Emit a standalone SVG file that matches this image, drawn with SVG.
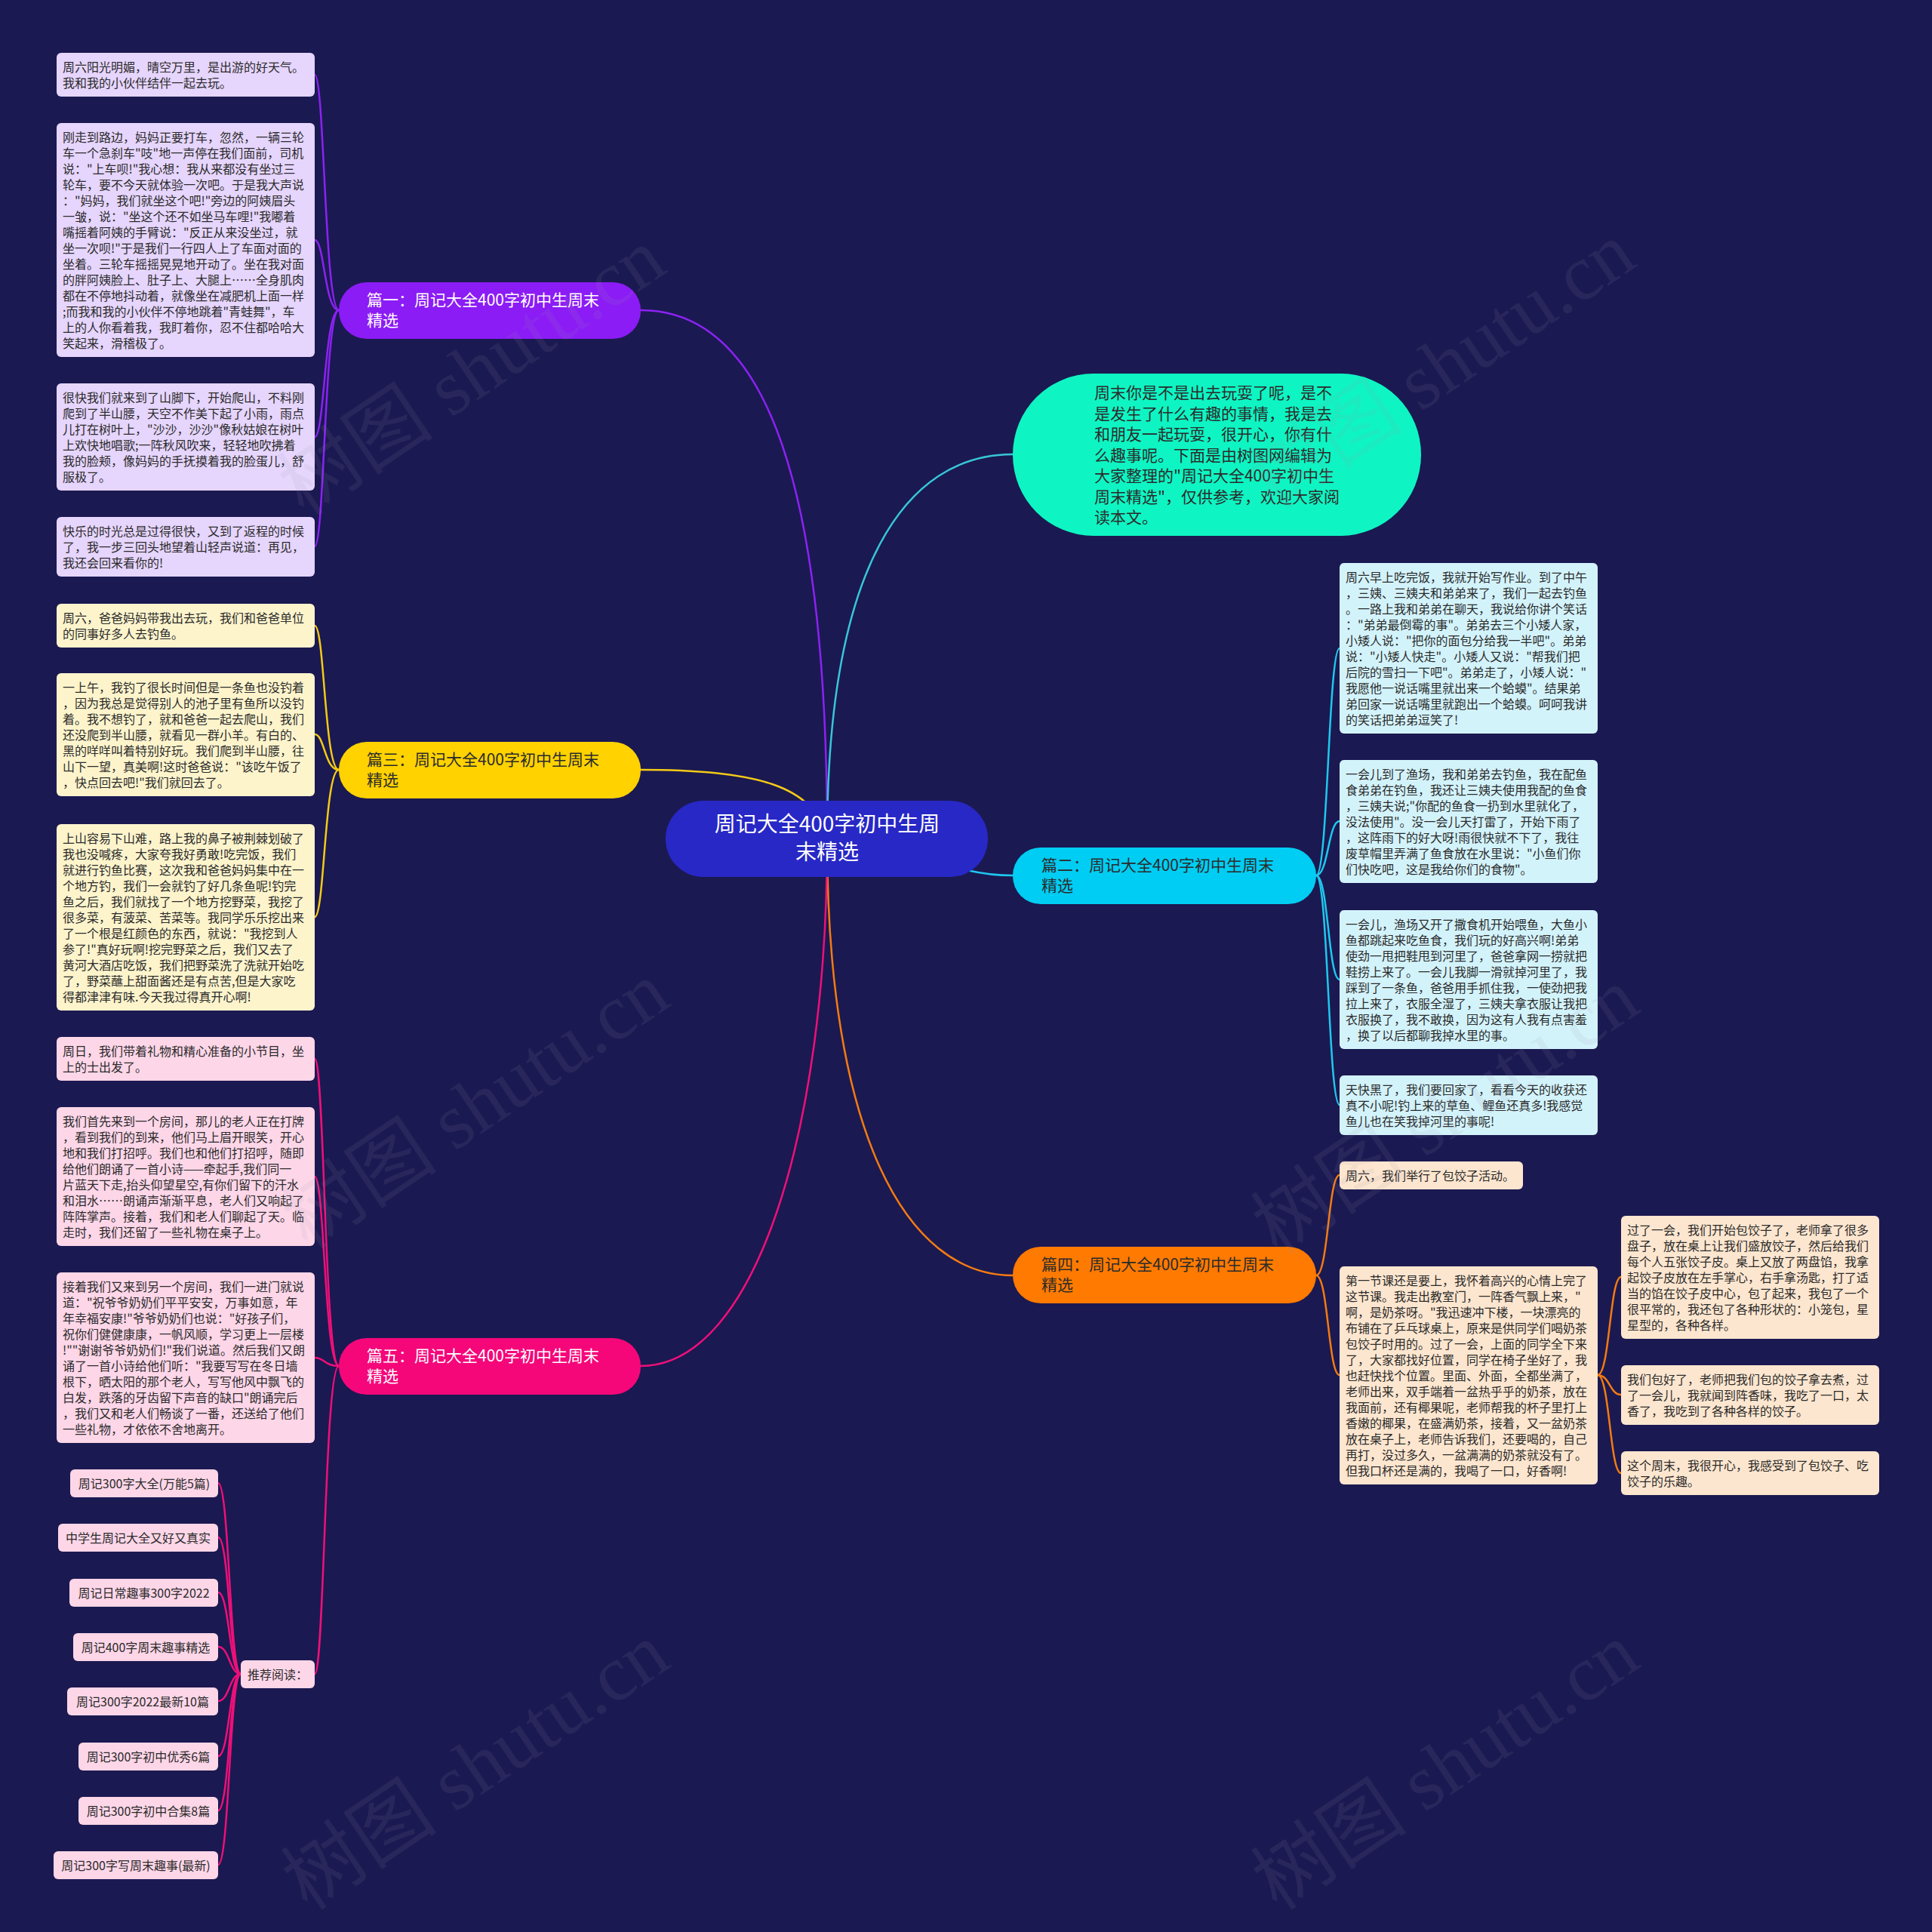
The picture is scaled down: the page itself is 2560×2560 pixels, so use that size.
<svg xmlns="http://www.w3.org/2000/svg" width="2560" height="2560" viewBox="0 0 2560 2560">
<style>
text{font-family:'Noto Sans CJK SC','Noto Sans',sans-serif}
.t16{font-size:16px;fill:#2b2b2b}
.t21{font-size:21px}
.dk{fill:#2b2b2b}
.wt{fill:#ffffff}
.ln{fill:none;stroke-width:2.5;stroke-linecap:round}
.pu{stroke:#8b22f2}.ye{stroke:#f4cb16}.pk{stroke:#ee1079}.cy{stroke:#1fc8ee}.tq{stroke:#38c6d8}.or{stroke:#f47b12}
.lpu{fill:#e6d5fd}.lye{fill:#fdf4cc}.lpk{fill:#fdd6e8}.lcy{fill:#d3f3fb}.lor{fill:#fde6cf}
.wm{font-family:'Liberation Serif','Noto Sans CJK SC',serif;font-size:104px;fill:#9a9ab0;opacity:0.1}
</style>
<rect width="2560" height="2560" fill="#1b1951"/>

<g id="connectors">
<path class="ln pu" d="M1096 1112C1096 600 1000 411 849 411"/>
<path class="ln tq" d="M1096 1112C1096 750 1200 602 1342 602"/>
<path class="ln ye" d="M1096 1112C1080 1040 1000 1020 849 1020"/>
<path class="ln cy" d="M1096 1112C1200 1112 1250 1160 1342 1160"/>
<path class="ln or" d="M1096 1112C1096 1500 1200 1690 1342 1690"/>
<path class="ln pk" d="M1096 1112C1096 1500 1000 1810 849 1810"/>
<path class="ln pu" d="M449 411C430 411 430 99 417 99"/>
<path class="ln pu" d="M449 411C430 411 430 318 417 318"/>
<path class="ln pu" d="M449 411C430 411 430 579 417 579"/>
<path class="ln pu" d="M449 411C430 411 430 724 417 724"/>
<path class="ln ye" d="M449 1020C430 1020 430 829 417 829"/>
<path class="ln ye" d="M449 1020C430 1020 430 973 417 973"/>
<path class="ln ye" d="M449 1020C430 1020 430 1215 417 1215"/>
<path class="ln pk" d="M449 1810C430 1810 430 1403 417 1403"/>
<path class="ln pk" d="M449 1810C430 1810 430 1559 417 1559"/>
<path class="ln pk" d="M449 1810C430 1810 430 1799 417 1799"/>
<path class="ln pk" d="M449 1810C430 1810 430 2218 417 2218"/>
<path class="ln pk" d="M319 2218C304 2218 304 1965 289 1965"/>
<path class="ln pk" d="M319 2218C304 2218 304 2037 289 2037"/>
<path class="ln pk" d="M319 2218C304 2218 304 2110 289 2110"/>
<path class="ln pk" d="M319 2218C304 2218 304 2182 289 2182"/>
<path class="ln pk" d="M319 2218C304 2218 304 2254 289 2254"/>
<path class="ln pk" d="M319 2218C304 2218 304 2327 289 2327"/>
<path class="ln pk" d="M319 2218C304 2218 304 2399 289 2399"/>
<path class="ln pk" d="M319 2218C304 2218 304 2471 289 2471"/>
<path class="ln cy" d="M1744 1160C1760 1160 1760 859 1775 859"/>
<path class="ln cy" d="M1744 1160C1760 1160 1760 1088 1775 1088"/>
<path class="ln cy" d="M1744 1160C1760 1160 1760 1298 1775 1298"/>
<path class="ln cy" d="M1744 1160C1760 1160 1760 1464 1775 1464"/>
<path class="ln or" d="M1744 1690C1760 1690 1760 1557 1775 1557"/>
<path class="ln or" d="M1744 1690C1760 1690 1760 1822 1775 1822"/>
<path class="ln or" d="M2117 1822C2133 1822 2133 1692 2148 1692"/>
<path class="ln or" d="M2117 1822C2133 1822 2133 1848 2148 1848"/>
<path class="ln or" d="M2117 1822C2133 1822 2133 1952 2148 1952"/>
</g>

<g id="center">
<rect x="882" y="1061" width="427" height="101" rx="50" fill="#2828c6"/>
<text class="wt" font-size="28" text-anchor="middle"><tspan x="1096" y="1102">周记大全400字初中生周</tspan><tspan x="1096" y="1139">末精选</tspan></text>
</g>

<g id="intro">
<rect x="1342" y="495" width="541" height="215" rx="107" fill="#0ef5c3"/>
<text class="t21 dk"><tspan x="1450" y="528">周末你是不是出去玩耍了呢，是不</tspan><tspan x="1450" y="555.5">是发生了什么有趣的事情，我是去</tspan><tspan x="1450" y="583">和朋友一起玩耍，很开心，你有什</tspan><tspan x="1450" y="610.5">么趣事呢。下面是由树图网编辑为</tspan><tspan x="1450" y="638">大家整理的"周记大全400字初中生</tspan><tspan x="1450" y="665.5">周末精选"，仅供参考，欢迎大家阅</tspan><tspan x="1450" y="693">读本文。</tspan></text>
</g>

<g id="branch1">
<rect x="449" y="374" width="400" height="75" rx="37" fill="#8b1cf5"/>
<text class="t21 wt"><tspan x="486" y="405">篇一：周记大全400字初中生周末</tspan><tspan x="486" y="432">精选</tspan></text>
</g>
<g id="branch3">
<rect x="449" y="983" width="400" height="75" rx="37" fill="#ffd200"/>
<text class="t21 dk"><tspan x="486" y="1014">篇三：周记大全400字初中生周末</tspan><tspan x="486" y="1041">精选</tspan></text>
</g>
<g id="branch5">
<rect x="449" y="1773" width="400" height="75" rx="37" fill="#f5077a"/>
<text class="t21 wt"><tspan x="486" y="1804">篇五：周记大全400字初中生周末</tspan><tspan x="486" y="1831">精选</tspan></text>
</g>
<g id="branch2">
<rect x="1342" y="1123" width="402" height="75" rx="37" fill="#00cdf3"/>
<text class="t21 dk"><tspan x="1380" y="1154">篇二：周记大全400字初中生周末</tspan><tspan x="1380" y="1181">精选</tspan></text>
</g>
<g id="branch4">
<rect x="1342" y="1652" width="402" height="75" rx="37" fill="#ff7a00"/>
<text class="t21 dk"><tspan x="1380" y="1683">篇四：周记大全400字初中生周末</tspan><tspan x="1380" y="1710">精选</tspan></text>
</g>

<g id="p1-1"><rect class="lpu" x="75" y="70" width="342" height="58" rx="6"/>
<text class="t16"><tspan x="83" y="95">周六阳光明媚，晴空万里，是出游的好天气。</tspan><tspan x="83" y="116">我和我的小伙伴结伴一起去玩。</tspan></text></g>
<g id="p1-2"><rect class="lpu" x="75" y="163" width="342" height="310" rx="6"/>
<text class="t16"><tspan x="83" y="188">刚走到路边，妈妈正要打车，忽然，一辆三轮</tspan><tspan x="83" y="209">车一个急刹车"吱"地一声停在我们面前，司机</tspan><tspan x="83" y="230">说："上车呗!"我心想：我从来都没有坐过三</tspan><tspan x="83" y="251">轮车，要不今天就体验一次吧。于是我大声说</tspan><tspan x="83" y="272">："妈妈，我们就坐这个吧!"旁边的阿姨眉头</tspan><tspan x="83" y="293">一皱，说："坐这个还不如坐马车哩!"我嘟着</tspan><tspan x="83" y="314">嘴摇着阿姨的手臂说："反正从来没坐过，就</tspan><tspan x="83" y="335">坐一次呗!"于是我们一行四人上了车面对面的</tspan><tspan x="83" y="356">坐着。三轮车摇摇晃晃地开动了。坐在我对面</tspan><tspan x="83" y="377">的胖阿姨脸上、肚子上、大腿上……全身肌肉</tspan><tspan x="83" y="398">都在不停地抖动着，就像坐在减肥机上面一样</tspan><tspan x="83" y="419">;而我和我的小伙伴不停地跳着"青蛙舞"，车</tspan><tspan x="83" y="440">上的人你看着我，我盯着你，忍不住都哈哈大</tspan><tspan x="83" y="461">笑起来，滑稽极了。</tspan></text></g>
<g id="p1-3"><rect class="lpu" x="75" y="508" width="342" height="142" rx="6"/>
<text class="t16"><tspan x="83" y="533">很快我们就来到了山脚下，开始爬山，不料刚</tspan><tspan x="83" y="554">爬到了半山腰，天空不作美下起了小雨，雨点</tspan><tspan x="83" y="575">儿打在树叶上，"沙沙，沙沙"像秋姑娘在树叶</tspan><tspan x="83" y="596">上欢快地唱歌;一阵秋风吹来，轻轻地吹拂着</tspan><tspan x="83" y="617">我的脸颊，像妈妈的手抚摸着我的脸蛋儿，舒</tspan><tspan x="83" y="638">服极了。</tspan></text></g>
<g id="p1-4"><rect class="lpu" x="75" y="685" width="342" height="79" rx="6"/>
<text class="t16"><tspan x="83" y="710">快乐的时光总是过得很快，又到了返程的时候</tspan><tspan x="83" y="731">了，我一步三回头地望着山轻声说道：再见，</tspan><tspan x="83" y="752">我还会回来看你的!</tspan></text></g>

<g id="p3-1"><rect class="lye" x="75" y="800" width="342" height="58" rx="6"/>
<text class="t16"><tspan x="83" y="825">周六，爸爸妈妈带我出去玩，我们和爸爸单位</tspan><tspan x="83" y="846">的同事好多人去钓鱼。</tspan></text></g>
<g id="p3-2"><rect class="lye" x="75" y="892" width="342" height="163" rx="6"/>
<text class="t16"><tspan x="83" y="917">一上午，我钓了很长时间但是一条鱼也没钓着</tspan><tspan x="83" y="938">，因为我总是觉得别人的池子里有鱼所以没钓</tspan><tspan x="83" y="959">着。我不想钓了，就和爸爸一起去爬山，我们</tspan><tspan x="83" y="980">还没爬到半山腰，就看见一群小羊。有白的、</tspan><tspan x="83" y="1001">黑的咩咩叫着特别好玩。我们爬到半山腰，往</tspan><tspan x="83" y="1022">山下一望，真美啊!这时爸爸说："该吃午饭了</tspan><tspan x="83" y="1043">，快点回去吧!"我们就回去了。</tspan></text></g>
<g id="p3-3"><rect class="lye" x="75" y="1092" width="342" height="247" rx="6"/>
<text class="t16"><tspan x="83" y="1117">上山容易下山难，路上我的鼻子被荆棘划破了</tspan><tspan x="83" y="1138">我也没喊疼，大家夸我好勇敢!吃完饭，我们</tspan><tspan x="83" y="1159">就进行钓鱼比赛，这次我和爸爸妈妈集中在一</tspan><tspan x="83" y="1180">个地方钓，我们一会就钓了好几条鱼呢!钓完</tspan><tspan x="83" y="1201">鱼之后，我们就找了一个地方挖野菜，我挖了</tspan><tspan x="83" y="1222">很多菜，有菠菜、苦菜等。我同学乐乐挖出来</tspan><tspan x="83" y="1243">了一个根是红颜色的东西，就说："我挖到人</tspan><tspan x="83" y="1264">参了!"真好玩啊!挖完野菜之后，我们又去了</tspan><tspan x="83" y="1285">黄河大酒店吃饭，我们把野菜洗了洗就开始吃</tspan><tspan x="83" y="1306">了，野菜蘸上甜面酱还是有点苦,但是大家吃</tspan><tspan x="83" y="1327">得都津津有味.今天我过得真开心啊!</tspan></text></g>

<g id="p5-1"><rect class="lpk" x="75" y="1374" width="342" height="58" rx="6"/>
<text class="t16"><tspan x="83" y="1399">周日，我们带着礼物和精心准备的小节目，坐</tspan><tspan x="83" y="1420">上的士出发了。</tspan></text></g>
<g id="p5-2"><rect class="lpk" x="75" y="1467" width="342" height="184" rx="6"/>
<text class="t16"><tspan x="83" y="1492">我们首先来到一个房间，那儿的老人正在打牌</tspan><tspan x="83" y="1513">，看到我们的到来，他们马上眉开眼笑，开心</tspan><tspan x="83" y="1534">地和我们打招呼。我们也和他们打招呼，随即</tspan><tspan x="83" y="1555">给他们朗诵了一首小诗——牵起手,我们同一</tspan><tspan x="83" y="1576">片蓝天下走,抬头仰望星空,有你们留下的汗水</tspan><tspan x="83" y="1597">和泪水……朗诵声渐渐平息，老人们又响起了</tspan><tspan x="83" y="1618">阵阵掌声。接着，我们和老人们聊起了天。临</tspan><tspan x="83" y="1639">走时，我们还留了一些礼物在桌子上。</tspan></text></g>
<g id="p5-3"><rect class="lpk" x="75" y="1686" width="342" height="226" rx="6"/>
<text class="t16"><tspan x="83" y="1711">接着我们又来到另一个房间，我们一进门就说</tspan><tspan x="83" y="1732">道："祝爷爷奶奶们平平安安，万事如意，年</tspan><tspan x="83" y="1753">年幸福安康!"爷爷奶奶们也说："好孩子们，</tspan><tspan x="83" y="1774">祝你们健健康康，一帆风顺，学习更上一层楼</tspan><tspan x="83" y="1795">!""谢谢爷爷奶奶们!"我们说道。然后我们又朗</tspan><tspan x="83" y="1816">诵了一首小诗给他们听："我要写写在冬日墙</tspan><tspan x="83" y="1837">根下，晒太阳的那个老人，写写他风中飘飞的</tspan><tspan x="83" y="1858">白发，跌落的牙齿留下声音的缺口"朗诵完后</tspan><tspan x="83" y="1879">，我们又和老人们畅谈了一番，还送给了他们</tspan><tspan x="83" y="1900">一些礼物，才依依不舍地离开。</tspan></text></g>
<g id="p5-rec"><rect class="lpk" x="319" y="2200" width="98" height="37" rx="6"/>
<text class="t16" x="368" y="2225" text-anchor="middle">推荐阅读：</text></g>
<g id="rec1"><rect class="lpk" x="93" y="1947" width="196" height="37" rx="6"/><text class="t16" x="191" y="1972" text-anchor="middle">周记300字大全(万能5篇)</text></g>
<g id="rec2"><rect class="lpk" x="77" y="2019" width="212" height="37" rx="6"/><text class="t16" x="183" y="2044" text-anchor="middle">中学生周记大全又好又真实</text></g>
<g id="rec3"><rect class="lpk" x="92" y="2092" width="197" height="37" rx="6"/><text class="t16" x="190.5" y="2117" text-anchor="middle">周记日常趣事300字2022</text></g>
<g id="rec4"><rect class="lpk" x="97" y="2164" width="192" height="37" rx="6"/><text class="t16" x="193" y="2189" text-anchor="middle">周记400字周末趣事精选</text></g>
<g id="rec5"><rect class="lpk" x="89" y="2236" width="200" height="37" rx="6"/><text class="t16" x="189" y="2261" text-anchor="middle">周记300字2022最新10篇</text></g>
<g id="rec6"><rect class="lpk" x="104" y="2309" width="185" height="37" rx="6"/><text class="t16" x="196.5" y="2334" text-anchor="middle">周记300字初中优秀6篇</text></g>
<g id="rec7"><rect class="lpk" x="104" y="2381" width="185" height="37" rx="6"/><text class="t16" x="196.5" y="2406" text-anchor="middle">周记300字初中合集8篇</text></g>
<g id="rec8"><rect class="lpk" x="71" y="2453" width="218" height="37" rx="6"/><text class="t16" x="180" y="2478" text-anchor="middle">周记300字写周末趣事(最新)</text></g>

<g id="p2-1"><rect class="lcy" x="1775" y="746" width="342" height="226" rx="6"/>
<text class="t16"><tspan x="1783" y="771">周六早上吃完饭，我就开始写作业。到了中午</tspan><tspan x="1783" y="792">，三姨、三姨夫和弟弟来了，我们一起去钓鱼</tspan><tspan x="1783" y="813">。一路上我和弟弟在聊天，我说给你讲个笑话</tspan><tspan x="1783" y="834">："弟弟最倒霉的事"。弟弟去三个小矮人家，</tspan><tspan x="1783" y="855">小矮人说："把你的面包分给我一半吧"。弟弟</tspan><tspan x="1783" y="876">说："小矮人快走"。小矮人又说："帮我们把</tspan><tspan x="1783" y="897">后院的雪扫一下吧"。弟弟走了，小矮人说："</tspan><tspan x="1783" y="918">我愿他一说话嘴里就出来一个蛤蟆"。结果弟</tspan><tspan x="1783" y="939">弟回家一说话嘴里就跑出一个蛤蟆。呵呵我讲</tspan><tspan x="1783" y="960">的笑话把弟弟逗笑了!</tspan></text></g>
<g id="p2-2"><rect class="lcy" x="1775" y="1007" width="342" height="163" rx="6"/>
<text class="t16"><tspan x="1783" y="1032">一会儿到了渔场，我和弟弟去钓鱼，我在配鱼</tspan><tspan x="1783" y="1053">食弟弟在钓鱼，我还让三姨夫使用我配的鱼食</tspan><tspan x="1783" y="1074">，三姨夫说;"你配的鱼食一扔到水里就化了，</tspan><tspan x="1783" y="1095">没法使用"。没一会儿天打雷了，开始下雨了</tspan><tspan x="1783" y="1116">，这阵雨下的好大呀!雨很快就不下了，我往</tspan><tspan x="1783" y="1137">废草帽里弄满了鱼食放在水里说："小鱼们你</tspan><tspan x="1783" y="1158">们快吃吧，这是我给你们的食物"。</tspan></text></g>
<g id="p2-3"><rect class="lcy" x="1775" y="1206" width="342" height="184" rx="6"/>
<text class="t16"><tspan x="1783" y="1231">一会儿，渔场又开了撒食机开始喂鱼，大鱼小</tspan><tspan x="1783" y="1252">鱼都跳起来吃鱼食，我们玩的好高兴啊!弟弟</tspan><tspan x="1783" y="1273">使劲一甩把鞋甩到河里了，爸爸拿网一捞就把</tspan><tspan x="1783" y="1294">鞋捞上来了。一会儿我脚一滑就掉河里了，我</tspan><tspan x="1783" y="1315">踩到了一条鱼，爸爸用手抓住我，一使劲把我</tspan><tspan x="1783" y="1336">拉上来了，衣服全湿了，三姨夫拿衣服让我把</tspan><tspan x="1783" y="1357">衣服换了，我不敢换，因为这有人我有点害羞</tspan><tspan x="1783" y="1378">，换了以后都聊我掉水里的事。</tspan></text></g>
<g id="p2-4"><rect class="lcy" x="1775" y="1425" width="342" height="79" rx="6"/>
<text class="t16"><tspan x="1783" y="1450">天快黑了，我们要回家了，看看今天的收获还</tspan><tspan x="1783" y="1471">真不小呢!钓上来的草鱼、鲤鱼还真多!我感觉</tspan><tspan x="1783" y="1492">鱼儿也在笑我掉河里的事呢!</tspan></text></g>

<g id="p4-1"><rect class="lor" x="1775" y="1539" width="243" height="37" rx="6"/>
<text class="t16" x="1783" y="1564">周六，我们举行了包饺子活动。</text></g>
<g id="p4-2"><rect class="lor" x="1775" y="1678" width="342" height="289" rx="6"/>
<text class="t16"><tspan x="1783" y="1703">第一节课还是要上，我怀着高兴的心情上完了</tspan><tspan x="1783" y="1724">这节课。我走出教室门，一阵香气飘上来，"</tspan><tspan x="1783" y="1745">啊，是奶茶呀。"我迅速冲下楼，一块漂亮的</tspan><tspan x="1783" y="1766">布铺在了乒乓球桌上，原来是供同学们喝奶茶</tspan><tspan x="1783" y="1787">包饺子时用的。过了一会，上面的同学全下来</tspan><tspan x="1783" y="1808">了，大家都找好位置，同学在椅子坐好了，我</tspan><tspan x="1783" y="1829">也赶快找个位置。里面、外面，全都坐满了，</tspan><tspan x="1783" y="1850">老师出来，双手端着一盆热乎乎的奶茶，放在</tspan><tspan x="1783" y="1871">我面前，还有椰果呢，老师帮我的杯子里打上</tspan><tspan x="1783" y="1892">香嫩的椰果，在盛满奶茶，接着，又一盆奶茶</tspan><tspan x="1783" y="1913">放在桌子上，老师告诉我们，还要喝的，自己</tspan><tspan x="1783" y="1934">再打，没过多久，一盆满满的奶茶就没有了。</tspan><tspan x="1783" y="1955">但我口杯还是满的，我喝了一口，好香啊!</tspan></text></g>
<g id="p4-2-1"><rect class="lor" x="2148" y="1611" width="342" height="163" rx="6"/>
<text class="t16"><tspan x="2156" y="1636">过了一会，我们开始包饺子了，老师拿了很多</tspan><tspan x="2156" y="1657">盘子，放在桌上让我们盛放饺子，然后给我们</tspan><tspan x="2156" y="1678">每个人五张饺子皮。桌上又放了两盘馅，我拿</tspan><tspan x="2156" y="1699">起饺子皮放在左手掌心，右手拿汤匙，打了适</tspan><tspan x="2156" y="1720">当的馅在饺子皮中心，包了起来，我包了一个</tspan><tspan x="2156" y="1741">很平常的，我还包了各种形状的：小笼包，星</tspan><tspan x="2156" y="1762">星型的，各种各样。</tspan></text></g>
<g id="p4-2-2"><rect class="lor" x="2148" y="1809" width="342" height="79" rx="6"/>
<text class="t16"><tspan x="2156" y="1834">我们包好了，老师把我们包的饺子拿去煮，过</tspan><tspan x="2156" y="1855">了一会儿，我就闻到阵香味，我吃了一口，太</tspan><tspan x="2156" y="1876">香了，我吃到了各种各样的饺子。</tspan></text></g>
<g id="p4-2-3"><rect class="lor" x="2148" y="1923" width="342" height="58" rx="6"/>
<text class="t16"><tspan x="2156" y="1948">这个周末，我很开心，我感受到了包饺子、吃</tspan><tspan x="2156" y="1969">饺子的乐趣。</tspan></text></g>

<g id="watermarks">
<text class="wm" text-anchor="middle" transform="translate(645 522) rotate(-34)">树图 shutu.cn</text>
<text class="wm" text-anchor="middle" transform="translate(1930 514) rotate(-34)">树图 shutu.cn</text>
<text class="wm" text-anchor="middle" transform="translate(650 1494) rotate(-34)">树图 shutu.cn</text>
<text class="wm" text-anchor="middle" transform="translate(1935 1502) rotate(-34)">树图 shutu.cn</text>
<text class="wm" text-anchor="middle" transform="translate(650 2370) rotate(-34)">树图 shutu.cn</text>
<text class="wm" text-anchor="middle" transform="translate(1935 2370) rotate(-34)">树图 shutu.cn</text>
</g>
</svg>
